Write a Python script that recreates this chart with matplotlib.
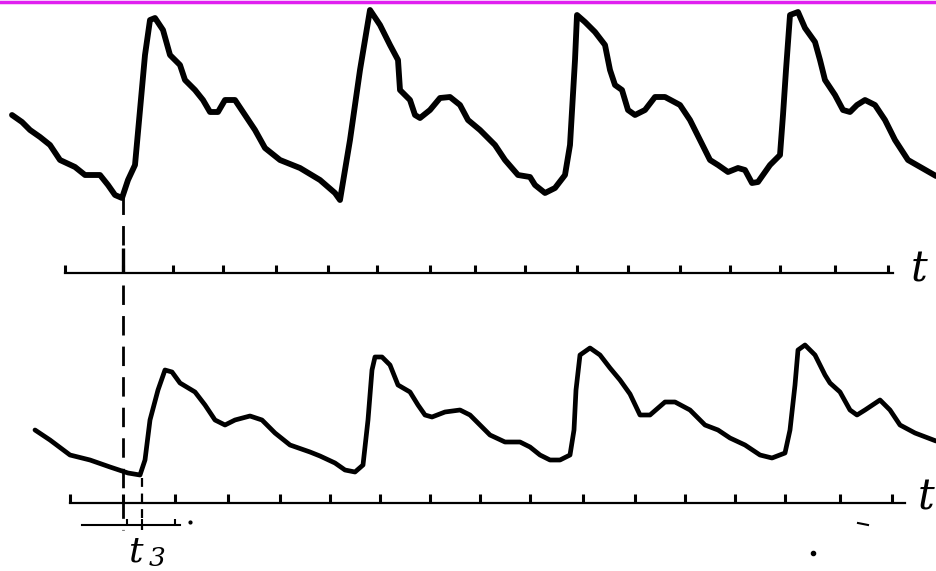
import matplotlib
matplotlib.use("Agg")
import matplotlib.pyplot as plt

# traced pulse curves (picture units, y grows downward)
top_x = [12, 22, 30, 40, 50, 60, 75, 85, 100, 108, 115, 122, 128, 135, 140, 145, 150, 155,
         163, 170, 180, 185, 195, 203, 210, 218, 225, 235, 245, 255, 265, 280, 300, 320,
         335, 340, 350, 360, 370, 380, 390, 398, 400, 410, 415, 420, 430, 440, 450, 460,
         468, 480, 495, 505, 518, 530, 535, 545, 555, 565, 570, 575, 577, 585, 595, 605,
         610, 615, 622, 628, 635, 645, 655, 665, 680, 690, 700, 710, 718, 728, 738, 745,
         752, 758, 770, 780, 783, 786, 790, 798, 805, 815, 820, 825, 835, 843, 850, 857,
         865, 875, 885, 895, 908, 922, 936]
top_y = [115, 122, 130, 137, 145, 160, 167, 175, 175, 185, 195, 198, 180, 165, 110, 55, 20, 18,
         30, 55, 65, 80, 90, 100, 112, 112, 100, 100, 115, 130, 148, 160, 168, 180,
         193, 200, 140, 70, 10, 25, 45, 60, 90, 100, 115, 118, 110, 98, 97, 105,
         120, 130, 145, 160, 175, 177, 185, 193, 188, 175, 145, 60, 15, 22, 32, 45,
         70, 85, 90, 110, 115, 110, 97, 97, 105, 120, 140, 160, 165, 172, 168, 170,
         183, 182, 165, 155, 115, 70, 15, 12, 28, 42, 60, 80, 95, 110, 112, 105,
         100, 105, 120, 140, 160, 168, 176]

bottom_x = [35, 50, 70, 90, 110, 128, 140, 145, 150, 158, 165, 172, 180, 195, 205, 215,
            225, 235, 250, 262, 275, 290, 310, 320, 335, 345, 355, 363, 368, 372, 375, 382,
            390, 398, 410, 418, 425, 432, 445, 460, 470, 480, 490, 505, 520, 530, 540,
            550, 560, 570, 574, 576, 580, 590, 600, 610, 620, 630, 640, 650, 665, 675,
            690, 705, 718, 730, 745, 760, 772, 785, 790, 795, 798, 805, 815, 825, 830,
            840, 850, 857, 865, 880, 890, 900, 915, 936]
bottom_y = [430, 440, 455, 460, 467, 473, 475, 460, 420, 390, 370, 372, 383, 392, 405, 420,
            425, 420, 416, 420, 433, 445, 452, 456, 463, 470, 472, 465, 420, 370, 357, 357,
            365, 385, 392, 405, 415, 417, 412, 410, 415, 425, 435, 442, 442, 447, 455,
            460, 460, 455, 430, 390, 355, 348, 355, 368, 380, 394, 415, 415, 402, 402,
            410, 425, 430, 438, 445, 455, 458, 453, 430, 385, 350, 345, 355, 375, 383,
            392, 410, 415, 410, 400, 410, 425, 433, 441]

top_ticks = [65, 123, 173, 223, 276, 328, 377, 430, 475, 525, 577, 628, 680, 730, 780, 835, 888]
bottom_ticks = [70, 123, 175, 228, 280, 330, 380, 430, 480, 530, 583, 635, 685, 735, 785, 840, 892]
small_ticks = [127, 142, 175]

fig = plt.figure(figsize=(9.36, 5.71), dpi=100)
ax = fig.add_axes([0, 0, 1, 1])
ax.set_xlim(0, 936)
ax.set_ylim(571, 0)
ax.axis("off")

# magenta frame line at the top
ax.axhline(1.5, color="#e020f0", lw=2.5)

ax.plot(top_x, top_y, color="black", lw=4.2, solid_joinstyle="round", solid_capstyle="round")
ax.plot(bottom_x, bottom_y, color="black", lw=3.4, solid_joinstyle="round", solid_capstyle="round")

# time axes
ax.plot([65, 893], [273, 273], color="black", lw=1.6)
ax.vlines(top_ticks, 265, 273, color="black", lw=2.2)
ax.vlines([123], 248, 273, color="black", lw=2.4)
ax.plot([70, 905], [503, 503], color="black", lw=1.6)
ax.vlines(bottom_ticks, 494, 503, color="black", lw=2.2)
ax.plot([82, 180], [525, 525], color="black", lw=1.5)
ax.vlines(small_ticks, 519, 525, color="black", lw=1.5)
ax.plot([190], [522], marker="o", ms=2, color="black")
ax.plot([858, 868], [523, 525], color="black", lw=1.5)
ax.plot([813], [553], marker="o", ms=3, color="black")

# dashed guide lines
ax.plot([123, 123], [195, 262], color="black", lw=2.0, ls=(0, (7, 4)))
ax.plot([123, 123], [285, 530], color="black", lw=2.0, ls=(0, (7, 4)))
ax.plot([142, 142], [478, 530], color="black", lw=1.6, ls=(0, (4, 3)))

ax.text(919, 270, "t", fontsize=30, family="DejaVu Serif", style="italic",
        ha="center", va="center")
ax.text(926, 498, "t", fontsize=30, family="DejaVu Serif", style="italic",
        ha="center", va="center")
ax.text(135, 552, "t", fontsize=26, family="DejaVu Serif", style="italic",
        ha="center", va="center")
ax.text(157, 558, "3", fontsize=19, family="DejaVu Serif", style="italic",
        ha="center", va="center")

fig.savefig("out.png", dpi=100, facecolor="white")
